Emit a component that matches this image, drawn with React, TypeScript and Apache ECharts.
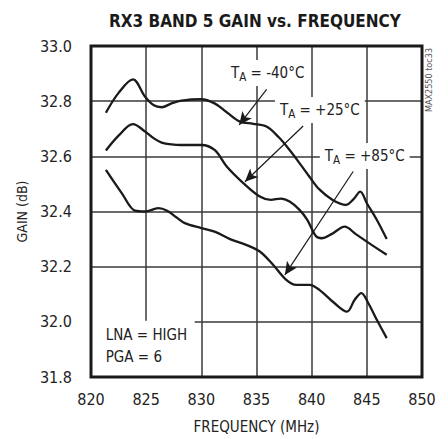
import React, { useEffect, useRef } from "react";
import * as echarts from "echarts";

const FONT = "'DejaVu Sans Condensed', 'DejaVu Sans', sans-serif";

const X_MIN = 820;
const X_MAX = 850;
const X_STEP = 5;
const Y_MIN = 31.8;
const Y_MAX = 33.0;
const Y_STEP = 0.2;

// TA = -40°C
const freqM40 = [821.35, 822.5, 823.8, 824.9, 825.7, 826.4, 827.3, 828.2, 830.0, 831.2, 832.3, 833.5, 834.7, 835.9, 837.0, 838.0, 839.0, 839.8, 840.7, 841.9, 843.1, 843.8, 844.4, 845.0, 845.9, 846.8];
const gainM40 = [32.758, 32.83, 32.879, 32.816, 32.785, 32.778, 32.792, 32.802, 32.807, 32.792, 32.76, 32.726, 32.718, 32.708, 32.67, 32.623, 32.57, 32.526, 32.48, 32.442, 32.424, 32.445, 32.472, 32.43, 32.37, 32.3];

// TA = +25°C
const freqP25 = [821.35, 822.5, 823.8, 824.9, 825.7, 826.4, 827.3, 828.2, 830.0, 831.2, 832.3, 833.8, 835.3, 836.3, 837.2, 838.0, 838.9, 839.6, 840.4, 840.9, 841.8, 843.0, 844.0, 845.4, 846.8];
const gainP25 = [32.621, 32.675, 32.717, 32.69, 32.665, 32.65, 32.643, 32.641, 32.641, 32.623, 32.563, 32.503, 32.454, 32.442, 32.447, 32.436, 32.406, 32.37, 32.31, 32.303, 32.318, 32.345, 32.318, 32.28, 32.243];

// TA = +85°C
const freqP85 = [821.35, 822.8, 824.0, 824.9, 826.1, 826.9, 827.7, 828.5, 830.0, 831.2, 832.6, 834.0, 835.3, 836.5, 837.7, 838.6, 839.8, 840.7, 842.0, 843.2, 843.9, 844.5, 845.1, 846.0, 846.8];
const gainP85 = [32.551, 32.466, 32.403, 32.4, 32.412, 32.403, 32.38, 32.358, 32.34, 32.327, 32.3, 32.28, 32.255, 32.207, 32.152, 32.134, 32.134, 32.116, 32.07, 32.037, 32.08, 32.104, 32.07, 32.0, 31.941];

// Annotations (data coordinates)
const annoTemps = ["-40°C", "+25°C", "+85°C"];
const annoTextAt = [[832.23, 32.902], [836.67, 32.768], [840.74, 32.601]];
const arrowFrom = [[835.92, 32.843], [839.23, 32.71], [843.76, 32.545]];
const arrowTo = [[833.43, 32.714], [833.95, 32.508], [837.57, 32.17]];
const noteLines = ["LNA = HIGH", "PGA = 6"];
const noteBox = [[820, 32.0], [829.4, 31.8]];
const noteTextAt = [821.33, 31.913];

const TITLE = "RX3 BAND 5 GAIN vs. FREQUENCY";
const X_NAME = "FREQUENCY (MHz)";
const Y_NAME = "GAIN (dB)";
const SIDE_NOTE = "MAX2550 toc33";

const INK = "#1a1a1a";
const GRID = "#3a3a3a";

export default function App() {
  const ref = useRef<HTMLDivElement>(null);
  useEffect(() => {
    const chart = echarts.init(ref.current!, null, { renderer: "svg" });
    const mk = (name: string, xs: number[], ys: number[], extra: any = {}) => ({
      type: "line",
      name,
      data: xs.map((x, i) => [x, ys[i]]),
      smooth: 0.35,
      symbol: "none",
      showSymbol: false,
      lineStyle: { color: INK, width: 2.3 },
      z: 3,
      ...extra,
    });
    chart.setOption({
      animation: false,
      title: {
        text: TITLE,
        left: 104,
        top: 7,
        textStyle: { fontFamily: FONT, fontSize: 17, fontWeight: "bold", color: INK },
      },
      grid: { left: 91, right: 26, top: 46, bottom: 62, show: false },
      xAxis: {
        type: "value",
        min: X_MIN,
        max: X_MAX,
        interval: X_STEP,
        name: X_NAME,
        nameLocation: "middle",
        nameGap: 42,
        nameTextStyle: { fontFamily: FONT, fontSize: 15, color: "#222" },
        axisLine: { show: false },
        axisTick: { show: false },
        axisLabel: { margin: 14, fontFamily: FONT, fontSize: 16, color: "#222" },
        splitLine: { show: true, lineStyle: { color: GRID, width: 1.5 } },
      },
      yAxis: {
        type: "value",
        min: Y_MIN,
        max: Y_MAX,
        interval: Y_STEP,
        name: Y_NAME,
        nameLocation: "middle",
        nameGap: 62,
        nameTextStyle: { fontFamily: FONT, fontSize: 14, color: "#222" },
        axisLine: { show: false },
        axisTick: { show: false },
        axisLabel: {
          margin: 19,
          fontFamily: FONT,
          fontSize: 16,
          color: "#222",
          formatter: (v: number) => v.toFixed(1),
        },
        splitLine: { show: true, lineStyle: { color: GRID, width: 1.5 } },
      },
      series: [
        mk("TA = -40°C", freqM40, gainM40, {
          markLine: {
            silent: true,
            symbol: ["none", "arrow"],
            symbolSize: [9, 13],
            lineStyle: { color: INK, width: 1.2, type: "solid" },
            label: { show: false },
            data: arrowFrom.map((f, i) => [{ coord: f }, { coord: arrowTo[i] }]),
          },
        }),
        mk("TA = +25°C", freqP25, gainP25),
        mk("TA = +85°C", freqP85, gainP85),
      ],
    });

    const px = (p: number[]) => chart.convertToPixel({ gridIndex: 0 }, p) as number[];
    const tl = px([X_MIN, Y_MAX]);
    const br = px([X_MAX, Y_MIN]);
    const rich = {
      t: { fontFamily: FONT, fontSize: 15, lineHeight: 20, fill: "#222" },
      s: { fontFamily: FONT, fontSize: 11.5, lineHeight: 12, verticalAlign: "bottom", fill: "#222" },
    };
    const annos = annoTemps.map((t, i) => {
      const p = px(annoTextAt[i]);
      return {
        type: "text",
        x: p[0],
        y: p[1],
        z: 50,
        style: {
          text: `{t|T}{s|A}{t| = ${t}}`,
          rich,
          align: "left",
          verticalAlign: "middle",
          backgroundColor: "#fff",
          padding: [3, 5, 3, 5],
        },
      };
    });
    const nb0 = px(noteBox[0]);
    const nb1 = px(noteBox[1]);
    const nt = px(noteTextAt);
    chart.setOption({
      graphic: [
        ...annos,
        {
          type: "rect",
          z: 40,
          shape: { x: nb0[0], y: nb0[1] - 1, width: nb1[0] - nb0[0], height: nb1[1] - nb0[1] + 1 },
          style: { fill: "#fff" },
        },
        {
          type: "text",
          x: nt[0],
          y: nt[1],
          z: 50,
          style: {
            text: noteLines.join("\n"),
            fontFamily: FONT,
            fontSize: 15,
            lineHeight: 22,
            fill: "#222",
            align: "left",
            verticalAlign: "middle",
          },
        },
        {
          type: "rect",
          z: 100,
          shape: { x: tl[0], y: tl[1], width: br[0] - tl[0], height: br[1] - tl[1] },
          style: { fill: "none", stroke: INK, lineWidth: 3 },
        },
        {
          type: "text",
          x: 429,
          y: 80,
          rotation: Math.PI / 2,
          z: 100,
          style: {
            text: SIDE_NOTE,
            fontFamily: FONT,
            fontSize: 9,
            fill: "#555",
            align: "center",
            verticalAlign: "middle",
          },
        },
      ],
    });
    return () => chart.dispose();
  }, []);
  return (
    <div
      ref={ref}
      style={{ position: "fixed", left: 0, top: 0, width: 448, height: 439, background: "#fff" }}
    />
  );
}
